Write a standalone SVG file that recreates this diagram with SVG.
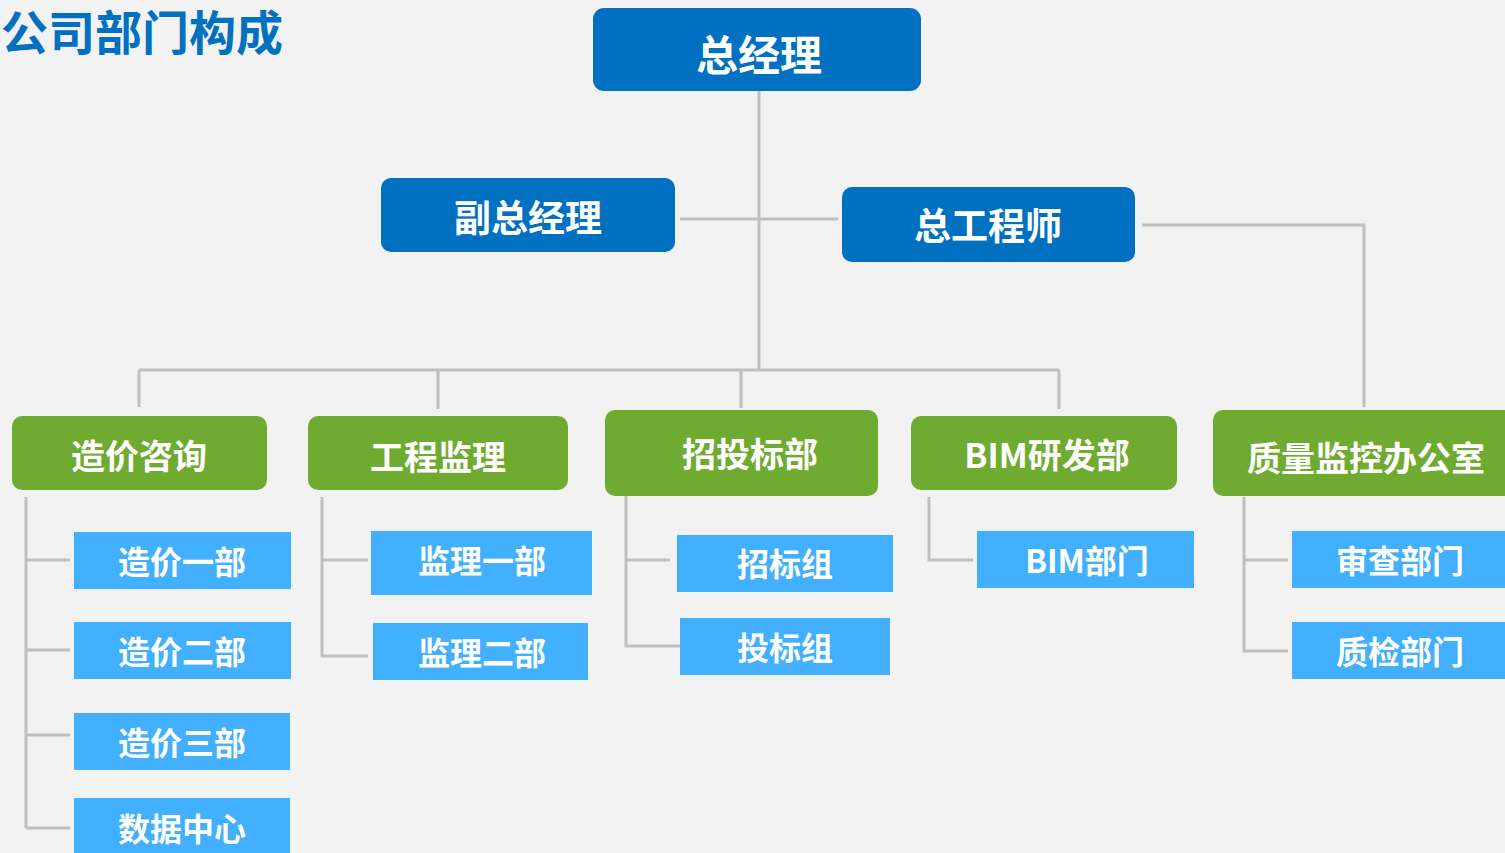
<svg xmlns="http://www.w3.org/2000/svg" width="1505" height="853" viewBox="0 0 1505 853">
<style>
.t{font-family:"Noto Sans CJK SC","Microsoft YaHei",sans-serif;font-weight:bold;fill:#fff;text-anchor:middle;dominant-baseline:central}
.dk{fill:#0070C0}
.gr{fill:#6FAB30}
.lb{fill:#42B0FE}
.c{fill:none;stroke:#BFBFBF;stroke-width:3}
</style>
<rect width="1505" height="853" fill="#F2F2F2"/>
<text x="1" y="29" style="font-family:'Noto Sans CJK SC',sans-serif;font-weight:bold;font-size:47px;fill:#0070C0;dominant-baseline:central">公司部门构成</text>
<g id="connectors">
<path class="c" d="M759 91V370M680 219H838M1142 225H1364V407M139 370H1059M139 370V407M438 370V409M741 370V408M1059 370V409"/>
<path class="c" d="M26 497V828M26 560H70M26 650H70M26 735H70M26 828H70"/>
<path class="c" d="M322 497V656H368M322 560H368"/>
<path class="c" d="M626 496V646H683M626 560H670"/>
<path class="c" d="M929 497V560H973"/>
<path class="c" d="M1244 497V651H1288M1244 560H1288"/>
</g>
<g id="gm"><rect class="dk" x="593" y="8" width="328" height="83" rx="11"/><text class="t" x="759" y="52" font-size="42">总经理</text></g>
<g id="vgm"><rect class="dk" x="381" y="178" width="294" height="74" rx="10"/><text class="t" x="528" y="216" font-size="37">副总经理</text></g>
<g id="ce"><rect class="dk" x="842" y="187" width="293" height="75" rx="10"/><text class="t" x="988" y="224" font-size="37">总工程师</text></g>
<g id="d1"><rect class="gr" x="12" y="416" width="255" height="74" rx="10"/><text class="t" x="139" y="454" font-size="34">造价咨询</text></g>
<g id="d2"><rect class="gr" x="308" y="416" width="260" height="74" rx="10"/><text class="t" x="438" y="455" font-size="34">工程监理</text></g>
<g id="d3"><rect class="gr" x="605" y="410" width="273" height="86" rx="10"/><text class="t" x="750" y="452" font-size="34">招投标部</text></g>
<g id="d4"><rect class="gr" x="911" y="416" width="266" height="74" rx="10"/><text class="t" x="1047" y="453" font-size="34">BIM研发部</text></g>
<g id="d5"><rect class="gr" x="1213" y="410" width="310" height="86" rx="10"/><text class="t" x="1366" y="456" font-size="34">质量监控办公室</text></g>
<g id="s11"><rect class="lb" x="74" y="532" width="217" height="57"/><text class="t" x="182" y="560" font-size="32">造价一部</text></g>
<g id="s12"><rect class="lb" x="74" y="622" width="217" height="57"/><text class="t" x="182" y="650" font-size="32">造价二部</text></g>
<g id="s13"><rect class="lb" x="74" y="713" width="216" height="57"/><text class="t" x="182" y="741" font-size="32">造价三部</text></g>
<g id="s14"><rect class="lb" x="74" y="798" width="216" height="60"/><text class="t" x="182" y="827" font-size="32">数据中心</text></g>
<g id="s21"><rect class="lb" x="371" y="531" width="221" height="64"/><text class="t" x="482" y="559" font-size="32">监理一部</text></g>
<g id="s22"><rect class="lb" x="373" y="623" width="215" height="57"/><text class="t" x="482" y="651" font-size="32">监理二部</text></g>
<g id="s31"><rect class="lb" x="677" y="535" width="216" height="57"/><text class="t" x="785" y="562" font-size="32">招标组</text></g>
<g id="s32"><rect class="lb" x="680" y="618" width="210" height="57"/><text class="t" x="785" y="646" font-size="32">投标组</text></g>
<g id="s41"><rect class="lb" x="977" y="531" width="217" height="57"/><text class="t" x="1087" y="559" font-size="32">BIM部门</text></g>
<g id="s51"><rect class="lb" x="1292" y="531" width="220" height="57"/><text class="t" x="1400" y="559" font-size="32">审查部门</text></g>
<g id="s52"><rect class="lb" x="1292" y="622" width="220" height="57"/><text class="t" x="1400" y="650" font-size="32">质检部门</text></g>
</svg>
